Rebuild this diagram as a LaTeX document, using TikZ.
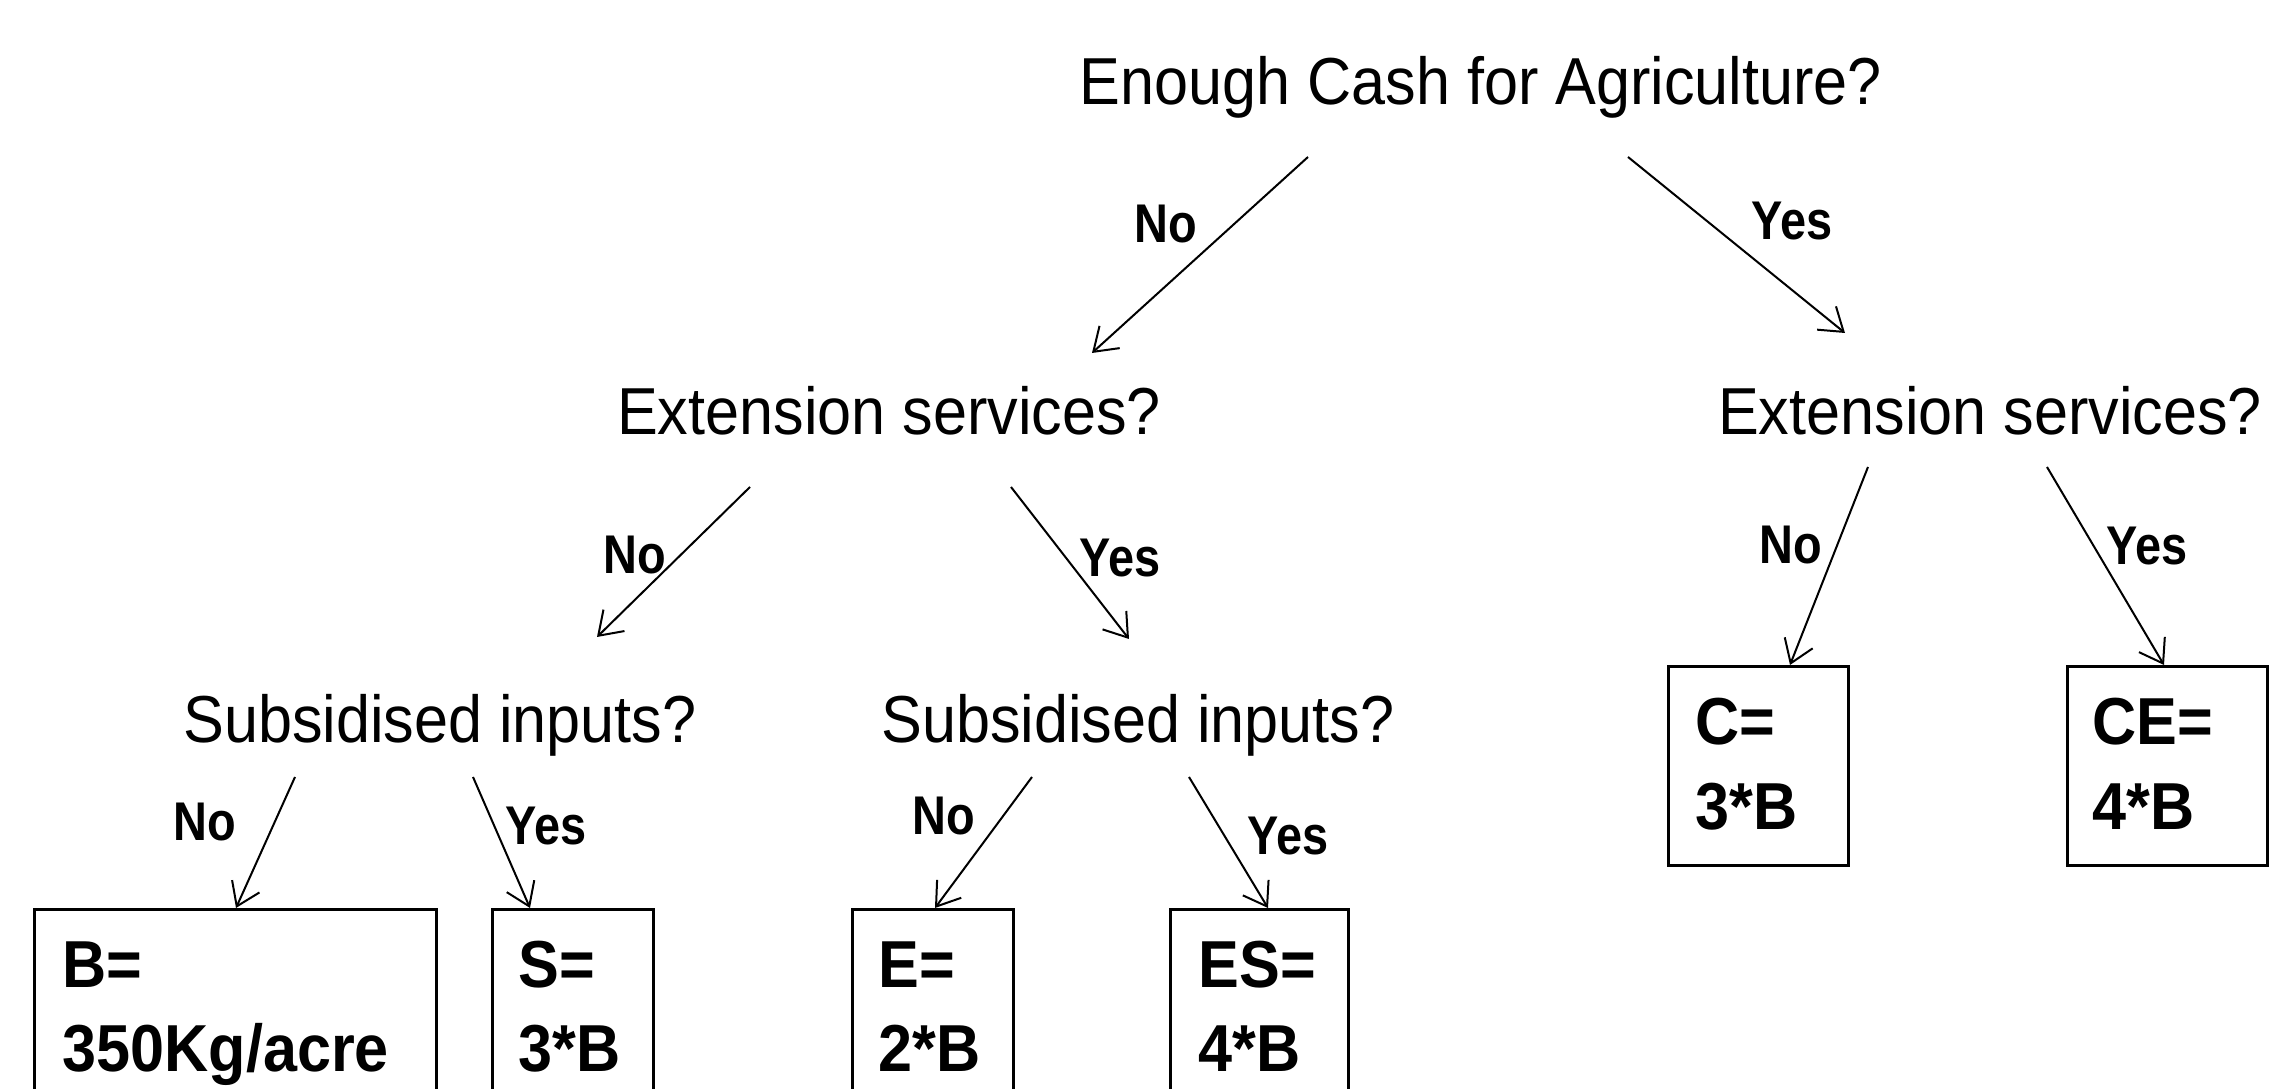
\documentclass[tikz,border=0pt]{standalone}
\usepackage{fontspec}
\setmainfont[FakeStretch=0.92]{Liberation Sans}
\newfontfamily\lblfont[FakeStretch=0.86]{Liberation Sans}
\usetikzlibrary{arrows.meta}
\begin{document}
\begin{tikzpicture}[x=0.01cm,y=-0.01cm,
  q/.style={font=\fontsize{18.9}{22}\selectfont, inner sep=0pt, anchor=base},
  lbl/.style={font=\lblfont\bfseries\fontsize{15.5}{18}\selectfont, inner sep=0pt},
  val/.style={font=\bfseries\fontsize{18.9}{22}\selectfont, inner sep=0pt, anchor=base west},
  leaf/.style={draw, line width=0.03cm, inner sep=0pt, anchor=north west},
  edge/.style={line width=0.02cm, -{Straight Barb[length=0.22cm,width=0.3cm]}}]
\useasboundingbox (0,0) rectangle (2271,1089);
\clip (0,0) rectangle (2271,1089);
\fill[white] (0,0) rectangle (2271,1089);

% questions
\node[q] (root) at (1481,105) {Enough Cash for Agriculture?};
\node[q] (extL) at (889,435) {Extension services?};
\node[q] (extR) at (1990,435) {Extension services?};
\node[q] (subL) at (440,743) {Subsidised inputs?};
\node[q] (subR) at (1138,743) {Subsidised inputs?};

% outcome boxes
\node[leaf, minimum width=4.02cm, minimum height=2.2cm] (B)  at (33,908)   {};
\node[leaf, minimum width=1.61cm, minimum height=2.2cm] (S)  at (491,908)  {};
\node[leaf, minimum width=1.61cm, minimum height=2.2cm] (E)  at (851,908)  {};
\node[leaf, minimum width=1.78cm, minimum height=2.2cm] (ES) at (1169,908) {};
\node[leaf, minimum width=1.80cm, minimum height=1.99cm] (C)  at (1667,665) {};
\node[leaf, minimum width=2.00cm, minimum height=1.99cm] (CE) at (2066,665) {};

% box texts
\node[val] (Bt1)  at (62,988)   {B=};
\node[val] (Bt2)  at (62,1072)  {350Kg/acre};
\node[val] (St1)  at (518,988)  {S=};
\node[val] (St2)  at (518,1072) {3*B};
\node[val] (Et1)  at (878,988)  {E=};
\node[val] (Et2)  at (878,1072) {2*B};
\node[val] (ESt1) at (1198,988) {ES=};
\node[val] (ESt2) at (1198,1072){4*B};
\node[val] (Ct1)  at (1695,745) {C=};
\node[val] (Ct2)  at (1695,830) {3*B};
\node[val] (CEt1) at (2092,745) {CE=};
\node[val] (CEt2) at (2092,830) {4*B};

% connector ends
\coordinate (r1) at (1308,157); \coordinate (r1e) at (1092,353);
\coordinate (r2) at (1628,157); \coordinate (r2e) at (1845,333);
\coordinate (l1) at (750,487);  \coordinate (l1e) at (597,637);
\coordinate (l2) at (1011,487); \coordinate (l2e) at (1129,639);
\coordinate (k1) at (1868,467); \coordinate (k1e) at (1790,665);
\coordinate (k2) at (2047,467); \coordinate (k2e) at (2164,665);
\coordinate (s1) at (295,777);  \coordinate (s1e) at (236,908);
\coordinate (s2) at (473,777);  \coordinate (s2e) at (530,908);
\coordinate (t1) at (1032,777); \coordinate (t1e) at (935,908);
\coordinate (t2) at (1189,777); \coordinate (t2e) at (1268,908);

\draw[edge] (r1) -- (r1e);
\draw[edge] (r2) -- (r2e);
\draw[edge] (l1) -- (l1e);
\draw[edge] (l2) -- (l2e);
\draw[edge] (k1) -- (k1e);
\draw[edge] (k2) -- (k2e);
\draw[edge] (s1) -- (s1e);
\draw[edge] (s2) -- (s2e);
\draw[edge] (t1) -- (t1e);
\draw[edge] (t2) -- (t2e);

% labels
\node[lbl] (n1) at (1166,224) {No};
\node[lbl] (y1) at (1792,221) {Yes};
\node[lbl] (n2) at (635,555)  {No};
\node[lbl] (y2) at (1120,558) {Yes};
\node[lbl] (n3) at (1791,545) {No};
\node[lbl] (y3) at (2147,546) {Yes};
\node[lbl] (n4) at (205,822)  {No};
\node[lbl] (y4) at (546,826)  {Yes};
\node[lbl] (n5) at (944,816)  {No};
\node[lbl] (y5) at (1288,836) {Yes};
\end{tikzpicture}
\end{document}
